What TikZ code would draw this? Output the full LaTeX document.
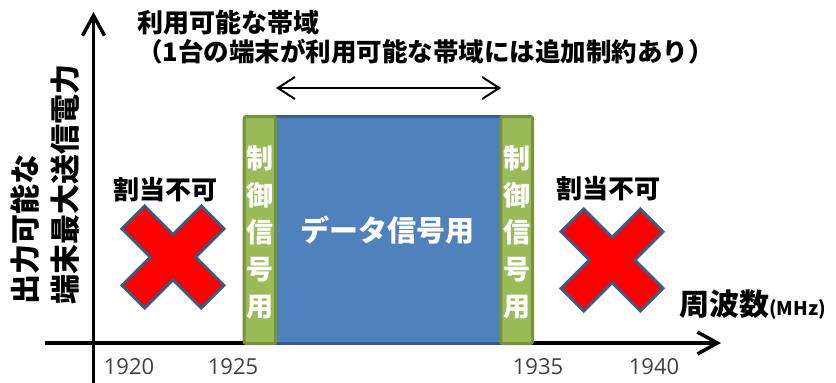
\documentclass[tikz,border=0pt]{standalone}
\usepackage{fontspec}
\setmainfont{Noto Sans CJK JP}
\newfontfamily\numfont{Open Sans}
\usetikzlibrary{arrows.meta}
\definecolor{gfill}{HTML}{9BBB59}
\definecolor{gdraw}{HTML}{76923C}
\definecolor{bfill}{HTML}{4F81BD}
\definecolor{bdraw}{HTML}{385D8A}
\definecolor{xdraw}{HTML}{3B5A85}
\definecolor{numcol}{HTML}{404040}
\newcommand{\fs}[2]{\fontsize{#1}{#2}\selectfont}
\begin{document}
\begin{tikzpicture}[x=1pt,y=-1pt,
  axis/.style={line width=3.5pt,-{Straight Barb[length=20pt,width=22pt]}},
  ctrlbox/.style={draw=gdraw,fill=gfill,line width=3pt,rounded corners=2pt},
  databox/.style={draw=bdraw,fill=bfill,line width=3pt},
  xmark/.style={draw=xdraw,fill=red,line width=3pt,line join=miter},
  vtext/.style={text=white,font=\bfseries\fs{27}{37},align=center,inner sep=0},
  jp/.style={font=\bfseries\fs{#1}{#1},inner sep=0},
  tick/.style={font=\numfont\fs{22}{22},text=numcol,inner sep=0},
  band/.style={line width=2pt,{Straight Barb[length=17pt,width=22pt]}-{Straight Barb[length=17pt,width=22pt]}}]
\useasboundingbox (0,0) rectangle (836,383);
% axes
\coordinate (ybot) at (93.5,383);
\coordinate (ytop) at (93.5,12);
\coordinate (xl) at (45,343);
\coordinate (xr) at (721,343);
\draw[axis] (ybot) -- (ytop);
\draw[axis] (xl) -- (xr);
% bars
\draw[databox] (275,116.5) rectangle (501,343.5);
\draw[ctrlbox] (244.2,116.5) rectangle (275.5,343.5);
\draw[ctrlbox] (500.8,116.5) rectangle (532.5,343.5);
\node[vtext] (c1) at (260,232) {制\\御\\信\\号\\用};
\node[vtext] (c2) at (516.7,232) {制\\御\\信\\号\\用};
\node[jp=29,text=white] (data) at (387,230) {データ信号用};
% X marks
\foreach \cx/\cy in {173/257, 612/260}{
  \draw[xmark,shift={(\cx,\cy)},rotate=45]
   (56,-16) -- (56,16) -- (16,16) -- (16,56) -- (-16,56) -- (-16,16) --
   (-56,16) -- (-56,-16) -- (-16,-16) -- (-16,-56) -- (16,-56) -- (16,-16) -- cycle;
}
\node[jp=26] (na1) at (165,190) {割当不可};
\node[jp=26] (na2) at (608,189) {割当不可};
% title
\node[jp=26,anchor=west] (t1) at (137,23) {利用可能な帯域};
\node[jp=25.5,anchor=west] (t2) at (137,52) {（1台の端末が利用可能な帯域には追加制約あり）};
\coordinate (bl) at (276,88);
\coordinate (br) at (501,88);
\draw[band] (bl) -- (br);
% y label
\node[rotate=90,anchor=west,align=left,font=\bfseries\fs{30}{40},inner sep=0] (ylab) at (45,305) {出力可能な\\端末最大送信電力};
% x label
\node[anchor=base west,inner sep=0] (xlab) at (679,315) {{\bfseries\fs{30}{30}周波数}{\bfseries\fs{19}{19}(MHz)}};
% ticks
\node[tick] (n1920) at (129,367) {1920};
\node[tick] (n1925) at (233,367) {1925};
\node[tick] (n1935) at (538,367) {1935};
\node[tick] (n1940) at (654,367) {1940};
\end{tikzpicture}
\end{document}
